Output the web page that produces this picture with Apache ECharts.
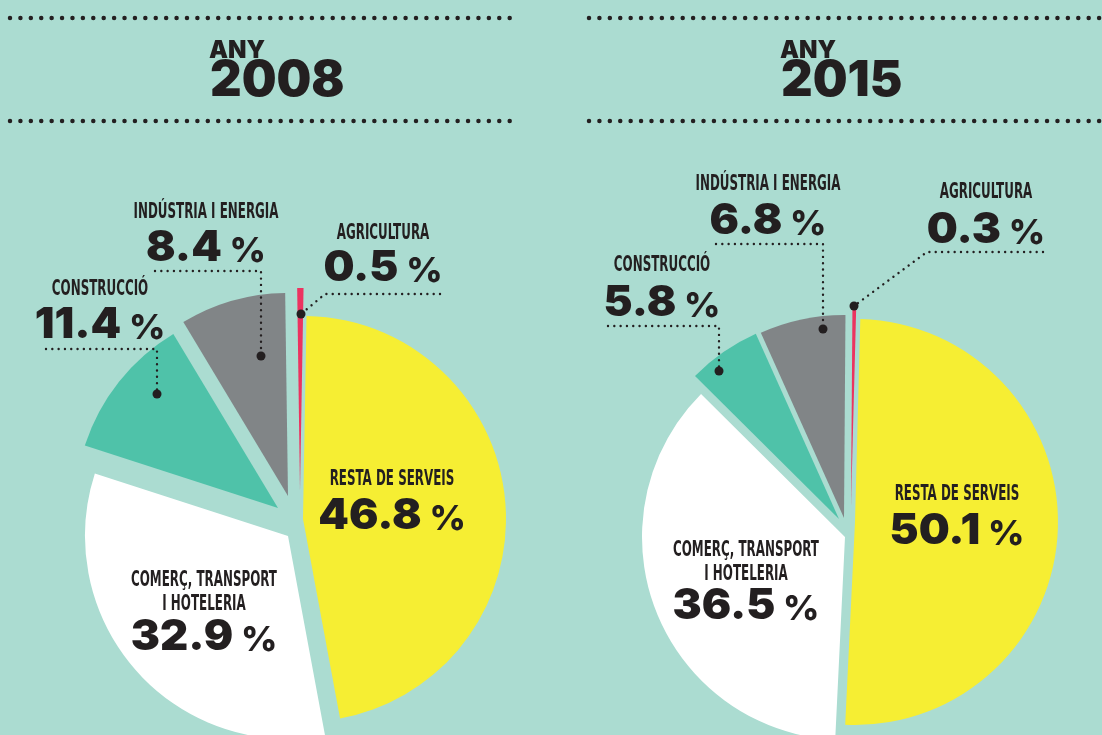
<!DOCTYPE html>
<html lang="ca">
<head>
    <meta charset="UTF-8">
    <title>Any 2008 / Any 2015</title>
    <script src="https://cdn.jsdelivr.net/npm/echarts@6/dist/echarts.min.js"></script>
    <style>
        html, body { margin: 0; padding: 0; background: #abdcd1; }
        #main { width: 1102px; height: 735px; }
    </style>
</head>
<body>
    <div id="main"></div>
    <script>
        // dades
        var years = ['2008', '2015'];
        var sectors = ['RESTA DE SERVEIS', 'COMERÇ, TRANSPORT\nI HOTELERIA', 'CONSTRUCCIÓ', 'INDÚSTRIA I ENERGIA', 'AGRICULTURA'];
        var share2008 = [46.8, 32.9, 11.4, 8.4, 0.5];
        var share2015 = [50.1, 36.5, 5.8, 6.8, 0.3];

        var colors = ['#f6ee33', '#ffffff', '#4fc2a9', '#818587', '#ec3360'];
        var ink = '#231f20';
        var nameFont = "'Liberation Sans Narrow', 'DejaVu Sans Condensed', 'Liberation Sans', sans-serif";
        var numFont = "Inter, 'Open Sans', sans-serif";

        // each pie: where every (pulled out) slice sits, and where its labels go
        var pies = [
            {
                values: share2008, startAngle: 89,
                centers: [[303, 519], [288, 536], [278, 508], [288, 496], [300, 491]],
                titleX: 210,
                labels: [[392, 480, 516], [204, 581, 637], [100, 290, 325], [206, 213, 248], [383, 234, 268]],
                leaders: { 2: [[46, 349], [157, 349], [157, 394]], 3: [[155, 271], [261, 271], [261, 356]], 4: [[440, 294], [325, 294], [301, 314]] },
                rule: [10, 510]
            },
            {
                values: share2015, startAngle: 88.5,
                centers: [[855, 522], [845, 537], [839, 519], [844, 518], [851, 506]],
                titleX: 781,
                labels: [[957, 495, 531], [746, 551, 606], [662, 266, 303], [768, 185, 221], [986, 193, 230]],
                leaders: { 2: [[608, 326], [719, 326], [719, 371]], 3: [[716, 244], [823, 244], [823, 329]], 4: [[1043, 252], [927, 252], [854, 306]] },
                rule: [589, 1110]
            }
        ];

        var series = [];
        var elements = [];

        pies.forEach(function (p, i) {
            // one series per slice so each slice can be pulled out on its own
            p.values.forEach(function (v, k) {
                series.push({
                    type: 'pie',
                    silent: true,
                    radius: 203,
                    center: p.centers[k],
                    startAngle: p.startAngle,
                    label: { show: false },
                    labelLine: { show: false },
                    data: p.values.map(function (val, j) {
                        return {
                            value: val,
                            name: sectors[j],
                            itemStyle: { color: colors[j], opacity: j === k ? 1 : 0 }
                        };
                    })
                });
            });

            // dotted rules and title
            [18, 121].forEach(function (y) {
                elements.push({
                    type: 'line', z: 10,
                    shape: { x1: p.rule[0], y1: y, x2: p.rule[1], y2: y },
                    style: { stroke: ink, lineWidth: 4.5, lineDash: [0.01, 10.4], lineCap: 'round' }
                });
            });
            elements.push({
                type: 'text', z: 10, x: p.titleX - 1, y: 51,
                style: { text: 'ANY', font: '900 24px ' + numFont, fill: ink, align: 'left', verticalAlign: 'middle' }
            });
            elements.push({
                type: 'text', z: 10, x: p.titleX, y: 81,
                style: { text: years[i], font: '900 49px ' + numFont, fill: ink, align: 'left', verticalAlign: 'middle' }
            });

            // labels
            p.values.forEach(function (v, k) {
                var L = p.labels[k];
                var lines = sectors[k].split('\n');
                lines.forEach(function (t, li) {
                    elements.push({
                        type: 'text', z: 10, x: L[0], y: L[1] + li * 24, scaleX: 0.63,
                        style: { text: t, font: 'bold 21px ' + nameFont, fill: ink, align: 'center', verticalAlign: 'middle' }
                    });
                });
                elements.push({
                    type: 'text', z: 10, x: L[0], y: L[2], scaleX: 1.04,
                    style: {
                        text: '{n|' + v.toFixed(1) + '}{p| %}',
                        align: 'center', verticalAlign: 'middle',
                        rich: {
                            n: { font: '900 42px ' + numFont, fill: ink, verticalAlign: 'bottom', lineHeight: 42 },
                            p: { font: '800 34px ' + numFont, fill: ink, verticalAlign: 'bottom', lineHeight: 37 }
                        }
                    }
                });
                var pts = p.leaders[k];
                if (pts) {
                    elements.push({
                        type: 'polyline', z: 10,
                        shape: { points: pts },
                        style: { stroke: ink, lineWidth: 2.4, lineDash: [0.01, 6.3], lineCap: 'round', fill: null }
                    });
                    var end = pts[pts.length - 1];
                    elements.push({
                        type: 'circle', z: 11,
                        shape: { cx: end[0], cy: end[1], r: 4.5 },
                        style: { fill: ink }
                    });
                }
            });
        });

        var myChart = echarts.init(document.getElementById('main'));
        myChart.setOption({
            backgroundColor: '#abdcd1',
            animation: false,
            series: series,
            graphic: { elements: elements }
        });
    </script>
</body>
</html>
